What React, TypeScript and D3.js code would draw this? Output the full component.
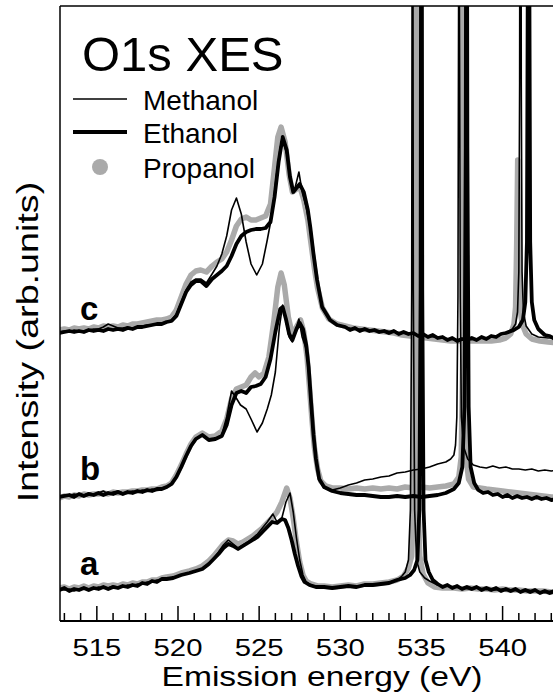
import React, { useEffect, useRef } from 'react';
import * as d3 from 'd3';

// O1s XES spectra, three excitation energies (a, b, c), offset vertically.
// each point: [emission energy (eV), intensity above the group's baseline (arb. units)]
const groupNames = ['a', 'b', 'c'];
const groupOffsets = [31, 124, 289];
const seriesNames = ['Methanol', 'Ethanol', 'Propanol'];

const methanolA = [
  [512.7, 1], [513.0, 0], [513.3, 1], [513.6, -1], [513.9, 1], [514.2, 2], [514.5, 1], [514.8, 1], [515.1, 3],
  [515.4, 2], [515.7, 2], [516.0, 4], [516.3, 3], [516.6, 3], [516.9, 5], [517.2, 4], [517.5, 6], [517.8, 6],
  [518.1, 8], [518.4, 8], [518.7, 10], [519.0, 10], [519.3, 12],
  [519.7, 12], [520.2, 15], [520.7, 17], [521.1, 19],
  [521.5, 21], [521.9, 26], [522.2, 32], [522.5, 38], [522.8, 45], [523.1, 50], [523.4, 46], [523.7, 42],
  [524.0, 45], [524.3, 48], [524.6, 52], [524.9, 56], [525.2, 62], [525.5, 68], [525.85, 76], [526.1, 68],
  [526.4, 72], [526.65, 88], [526.9, 97], [527.1, 78], [527.3, 52], [527.5, 30], [527.7, 15], [527.9, 8],
  [528.2, 5], [528.6, 3], [529.0, 3], [529.5, 2], [530.0, 3], [530.5, 4], [531.0, 3], [531.5, 5], [532.0, 5],
  [532.5, 6], [533.0, 7], [533.5, 10], [533.8, 14], [534.0, 18], [534.2, 30], [534.32, 80], [534.4, 300],
  [534.45, 1000], [534.5, 300], [534.58, 80], [534.7, 30], [534.9, 18], [535.2, 12], [535.5, 9], [536.0, 5],
  [536.5, 4], [537.0, 3], [537.5, 2], [538.0, 1], [538.5, 2], [539.0, 1], [539.5, 0], [540.0, 1], [540.5, 0],
  [541.0, -1], [541.5, 0], [542.0, -1], [542.5, -2], [543.0, -1], [543.5, -3],
];
const ethanolA = [
  [512.7, 0], [513.0, 2], [513.3, -1], [513.6, 1], [513.9, 0], [514.2, 2], [514.5, 0], [514.8, 2], [515.1, 1],
  [515.4, 3], [515.7, 1], [516.0, 3], [516.3, 2], [516.6, 4], [516.9, 3], [517.2, 5], [517.5, 4], [517.8, 7],
  [518.1, 6], [518.4, 9], [518.7, 8], [519.0, 11], [519.3, 11],
  [519.7, 12], [520.2, 15], [520.7, 17], [521.1, 19],
  [521.5, 21], [521.9, 26], [522.2, 31], [522.5, 36], [522.8, 42], [523.1, 46], [523.4, 44], [523.7, 41],
  [524.0, 44], [524.3, 47], [524.6, 50], [524.9, 53], [525.2, 58], [525.5, 63], [525.8, 68], [526.1, 67],
  [526.4, 71], [526.6, 70], [526.8, 62], [527.0, 50], [527.2, 36], [527.4, 24], [527.6, 14], [527.8, 8],
  [528.1, 5], [528.5, 3], [529.0, 3], [529.5, 2], [530.0, 3], [530.5, 4], [531.0, 3], [531.5, 5], [532.0, 5],
  [532.5, 6], [533.0, 7], [533.5, 10], [534.0, 12], [534.3, 15], [534.55, 20], [534.75, 30], [534.87, 80],
  [534.95, 300], [535.0, 1000], [535.05, 300], [535.13, 80], [535.25, 30], [535.45, 18], [535.7, 10], [536.0, 6],
  [536.3, 3], [536.6, 5], [536.9, 2], [537.2, 4], [537.5, 1], [537.8, 3], [538.1, 1], [538.4, 3], [538.7, 0],
  [539.0, 2], [539.3, 0], [539.6, 2], [539.9, -1], [540.2, 1], [540.5, -1], [540.8, 1], [541.1, -2], [541.4, 0],
  [541.7, -2], [542.0, 0], [542.3, -3], [542.6, -1], [542.9, -3], [543.2, -1], [543.5, -3],
];
const propanolA = [
  [512.7, 2], [513.0, 3], [513.3, 1], [513.6, 3], [513.9, 2], [514.2, 4], [514.5, 2], [514.8, 4], [515.1, 3],
  [515.4, 5], [515.7, 4], [516.0, 5], [516.3, 4], [516.6, 6], [516.9, 5], [517.2, 7], [517.5, 6], [517.8, 8],
  [518.1, 8], [518.4, 10], [518.7, 10], [519.0, 12], [519.3, 13],
  [519.7, 14], [520.2, 17], [520.7, 19], [521.1, 21],
  [521.5, 24], [521.9, 29], [522.2, 34], [522.5, 40], [522.8, 46], [523.1, 50], [523.4, 49], [523.7, 46],
  [524.0, 48], [524.3, 51], [524.6, 54], [524.9, 58], [525.2, 62], [525.5, 67], [525.8, 72], [526.1, 78],
  [526.4, 88], [526.7, 102], [526.9, 92], [527.1, 72], [527.3, 48], [527.5, 28], [527.7, 15], [527.9, 9],
  [528.2, 6], [528.6, 4], [529.0, 4], [529.5, 3], [530.0, 4], [530.5, 5], [531.0, 4], [531.5, 6], [532.0, 6],
  [532.5, 7], [533.0, 8], [533.5, 10], [533.9, 14], [534.2, 22], [534.4, 34], [534.52, 90], [534.6, 400],
  [534.65, 800], [534.7, 400], [534.78, 90], [534.9, 34], [535.1, 16], [535.4, 7], [535.8, 3], [536.3, 2],
  [537.0, 2], [537.5, 1], [538.0, 2], [538.5, 1], [539.0, 1], [539.5, 0], [540.0, 1], [540.5, 0], [541.0, 0],
  [541.5, -1], [542.0, -1], [542.5, -1], [543.0, -2], [543.5, -1],
];

const methanolB = [
  [512.7, 1], [513.0, 2], [513.3, 1], [513.6, 3], [513.9, 2], [514.2, 2], [514.5, 4], [514.8, 3], [515.1, 4],
  [515.4, 6], [515.7, 3], [516.0, 5], [516.3, 6], [516.6, 4], [516.9, 5], [517.2, 6], [517.5, 5], [517.8, 7],
  [518.1, 6], [518.4, 8], [518.7, 7], [519.0, 9], [519.3, 10],
  [519.6, 13], [519.9, 20], [520.2, 31], [520.5, 42],
  [520.8, 52], [521.1, 58], [521.5, 62], [521.9, 57], [522.3, 58], [522.7, 62], [523.0, 80], [523.3, 106],
  [523.55, 100], [523.85, 92], [524.2, 88], [524.5, 78], [524.87, 65], [525.2, 74], [525.5, 88], [525.75, 102],
  [526.0, 125], [526.25, 170], [526.45, 192], [526.65, 176], [526.85, 160], [527.05, 155], [527.3, 170],
  [527.45, 178], [527.65, 160], [527.9, 148], [528.05, 128], [528.2, 95], [528.35, 62], [528.5, 38], [528.7, 18],
  [529.0, 9], [529.5, 7], [530.0, 9], [530.5, 12], [531.0, 14], [531.5, 17], [532.0, 18], [532.5, 20],
  [533.0, 21], [533.5, 24], [534.0, 25], [534.5, 27], [535.0, 28], [535.5, 30], [536.0, 33], [536.5, 35],
  [536.8, 38], [537.0, 42], [537.1, 52], [537.18, 80], [537.25, 200], [537.29, 500], [537.32, 900],
  [537.35, 500], [537.39, 200], [537.46, 80], [537.6, 50], [537.85, 38], [538.2, 32], [538.6, 30], [539.0, 29],
  [539.4, 31], [539.8, 29], [540.2, 30], [540.6, 28], [541.0, 28], [541.4, 27], [541.8, 28], [542.2, 26],
  [542.6, 27], [543.0, 26], [543.5, 27],
];
const ethanolB = [
  [512.7, 0], [513.0, 1], [513.3, 2], [513.6, 0], [513.9, 3], [514.2, 1], [514.5, 3], [514.8, 2], [515.1, 4],
  [515.4, 2], [515.7, 4], [516.0, 3], [516.3, 5], [516.6, 3], [516.9, 5], [517.2, 4], [517.5, 6], [517.8, 5],
  [518.1, 7], [518.4, 6], [518.7, 8], [519.0, 8], [519.3, 10],
  [519.6, 13], [519.9, 20], [520.2, 30], [520.5, 41],
  [520.8, 51], [521.1, 58], [521.5, 62], [521.9, 57], [522.3, 58], [522.7, 61], [523.0, 72], [523.3, 92],
  [523.6, 104], [523.9, 106], [524.2, 104], [524.5, 110], [524.8, 111], [525.1, 113], [525.4, 120], [525.7, 138],
  [526.0, 165], [526.3, 188], [526.45, 190], [526.65, 178], [526.85, 163], [527.05, 157], [527.3, 168],
  [527.5, 174], [527.7, 168], [527.9, 152], [528.05, 130], [528.2, 95], [528.35, 62], [528.5, 38], [528.7, 18],
  [529.0, 10], [529.5, 6], [530.0, 4], [530.5, 3], [531.0, 2], [531.5, 2], [532.0, 1], [532.5, 0], [533.0, 0],
  [533.5, 1], [534.0, 0], [534.5, 1], [535.0, 0], [535.5, 1], [536.0, 2], [536.5, 4], [537.0, 8], [537.3, 14],
  [537.52, 30], [537.65, 90], [537.73, 350], [537.78, 900], [537.83, 350], [537.91, 90], [538.03, 30],
  [538.25, 14], [538.5, 7], [538.8, 4], [539.1, 5], [539.4, 2], [539.7, 3], [540.0, 0], [540.3, 2], [540.6, -1],
  [540.9, 1], [541.2, -1], [541.5, 0], [541.8, -2], [542.1, 0], [542.4, -2], [542.7, -1], [543.0, -3],
  [543.5, -2],
];
const propanolB = [
  [512.7, -1], [513.0, 1], [513.3, 0], [513.6, 2], [513.9, 1], [514.2, 3], [514.5, 2], [514.8, 3], [515.1, 3],
  [515.4, 4], [515.7, 3], [516.0, 5], [516.3, 4], [516.6, 5], [516.9, 5], [517.2, 6], [517.5, 6], [517.8, 7],
  [518.1, 7], [518.4, 8], [518.7, 8], [519.0, 10], [519.3, 11],
  [519.6, 14], [519.9, 22], [520.2, 32], [520.5, 43],
  [520.8, 53], [521.1, 60], [521.5, 64], [521.9, 60], [522.3, 61], [522.7, 66], [523.0, 78], [523.3, 98],
  [523.6, 108], [523.9, 110], [524.2, 112], [524.5, 120], [524.75, 124], [525.0, 120], [525.3, 124], [525.6, 140],
  [525.9, 175], [526.15, 210], [526.35, 224], [526.55, 212], [526.8, 180], [527.05, 162], [527.3, 170],
  [527.55, 177], [527.75, 165], [527.95, 140], [528.1, 110], [528.25, 78], [528.4, 50], [528.6, 28], [528.8, 16],
  [529.1, 11], [529.5, 9], [530.0, 9], [530.5, 8], [531.0, 9], [531.5, 8], [532.0, 9], [532.5, 8], [533.0, 9],
  [533.5, 8], [534.0, 10], [534.5, 9], [535.0, 10], [535.5, 9], [536.0, 10], [536.5, 11], [537.0, 13],
  [537.3, 20], [537.45, 40], [537.55, 150], [537.6, 600], [537.65, 150], [537.75, 40], [537.9, 18], [538.2, 10],
  [538.6, 9], [539.0, 8], [539.5, 7], [540.0, 6], [540.5, 5], [541.0, 4], [541.5, 3], [542.0, 2], [542.5, 1],
  [543.0, 0], [543.5, 0],
];

const methanolC = [
  [512.7, 0], [513.0, 1], [513.3, 0], [513.6, 2], [513.9, 1], [514.2, 1], [514.5, 2], [514.8, 3], [515.1, 3],
  [515.4, 5], [515.7, 8], [516.0, 6], [516.3, 4], [516.6, 4], [516.9, 5], [517.2, 4], [517.5, 5], [517.8, 6],
  [518.1, 7], [518.4, 7], [518.7, 8], [519.0, 9], [519.3, 10],
  [519.6, 12], [519.9, 18], [520.2, 30],
  [520.5, 42], [520.8, 50], [521.1, 53], [521.4, 53], [521.75, 49], [522.1, 58], [522.4, 66], [522.7, 78],
  [523.0, 96], [523.3, 122], [523.6, 134], [523.9, 118], [524.2, 90], [524.5, 68], [524.85, 57], [525.2, 68],
  [525.5, 92], [525.8, 118], [526.05, 155], [526.3, 185], [526.45, 192], [526.7, 178], [526.95, 150],
  [527.15, 140], [527.45, 160], [527.65, 140], [527.9, 125], [528.1, 108], [528.35, 78], [528.57, 52],
  [528.88, 25], [529.37, 12], [529.8, 7], [530.3, 5], [530.8, 3], [531.3, 3], [531.8, 2], [532.3, 1], [532.8, 1],
  [533.3, 0], [533.8, -1], [534.3, -2], [534.8, -3], [535.3, -4], [535.8, -5], [536.3, -6], [536.8, -7],
  [537.3, -8], [537.8, -7], [538.3, -7], [538.8, -6], [539.3, -5], [539.8, -3], [540.3, 0], [540.6, 3],
  [540.8, 8], [540.92, 20], [541.0, 60], [541.05, 250], [541.08, 700], [541.12, 700], [541.15, 250],
  [541.2, 60], [541.28, 20], [541.45, 6], [541.8, -2], [542.2, -5], [542.8, -6], [543.5, -6],
];
const ethanolC = [
  [512.7, -1], [513.0, 0], [513.3, 1], [513.6, 0], [513.9, 1], [514.2, 0], [514.5, 2], [514.8, 1], [515.1, 2],
  [515.4, 1], [515.7, 3], [516.0, 2], [516.3, 3], [516.6, 2], [516.9, 4], [517.2, 3], [517.5, 5], [517.8, 5],
  [518.1, 6], [518.4, 7], [518.7, 8], [519.0, 8], [519.3, 10],
  [519.6, 11], [519.9, 16], [520.2, 28], [520.5, 40],
  [520.8, 47], [521.1, 51], [521.4, 51], [521.75, 46], [522.1, 53], [522.4, 57], [522.7, 61], [523.0, 66],
  [523.3, 76], [523.6, 88], [523.9, 96], [524.2, 100], [524.5, 102], [524.8, 103], [525.1, 103], [525.4, 104],
  [525.7, 110], [525.95, 135], [526.2, 170], [526.45, 195], [526.7, 182], [526.9, 155], [527.1, 140],
  [527.3, 144], [527.5, 148], [527.75, 140], [528.0, 122], [528.15, 105], [528.35, 78], [528.57, 52],
  [528.88, 25], [529.37, 12], [529.8, 7], [530.3, 5], [530.6, 2], [530.9, 4], [531.2, 1], [531.5, 3], [531.8, 1],
  [532.1, 2], [532.4, 0], [532.7, 1], [533.0, -1], [533.3, 1], [533.6, -2], [533.9, 0], [534.2, -2], [534.5, -1],
  [534.8, -4], [535.1, -2], [535.4, -5], [535.7, -3], [536.0, -6], [536.3, -5], [536.6, -8], [536.9, -6],
  [537.2, -9], [537.5, -7], [537.8, -8], [538.1, -6], [538.4, -8], [538.7, -5], [539.0, -7], [539.3, -4],
  [539.6, -5], [539.9, -2], [540.2, -1], [540.7, 2],
  [541.0, 5], [541.25, 12], [541.4, 30], [541.5, 90], [541.56, 400], [541.6, 700], [541.64, 400], [541.7, 90],
  [541.8, 30], [541.95, 12], [542.2, 3], [542.6, -3], [542.9, -4], [543.2, -7], [543.5, -5],
];
const propanolC = [
  [512.7, 2], [513.0, 3], [513.3, 2], [513.6, 4], [513.9, 3], [514.2, 4], [514.5, 3], [514.8, 5], [515.1, 4],
  [515.4, 6], [515.7, 5], [516.0, 6], [516.3, 5], [516.6, 7], [516.9, 6], [517.2, 8], [517.5, 8], [517.8, 9],
  [518.1, 10], [518.4, 11], [518.7, 12], [519.0, 12], [519.3, 13],
  [519.6, 15], [519.9, 22], [520.2, 35],
  [520.5, 48], [520.8, 57], [521.1, 61], [521.4, 62], [521.75, 60], [522.1, 66], [522.4, 70], [522.7, 73],
  [523.0, 80], [523.3, 92], [523.6, 106], [523.9, 113], [524.2, 115], [524.5, 112], [524.8, 112], [525.1, 114],
  [525.4, 116], [525.7, 128], [525.95, 165], [526.15, 195], [526.35, 205], [526.6, 190], [526.85, 157],
  [527.05, 140], [527.3, 143], [527.5, 146], [527.75, 132], [528.0, 112], [528.2, 88], [528.4, 64], [528.6, 44],
  [528.9, 24], [529.3, 13], [529.8, 8], [530.3, 6], [530.8, 4], [531.3, 3], [531.8, 2], [532.3, 1], [532.8, 0],
  [533.3, -1], [533.8, -3], [534.3, -4], [534.8, -5], [535.3, -6], [535.8, -7], [536.3, -8], [536.8, -9],
  [537.3, -9], [537.8, -9], [538.3, -9], [538.8, -9], [539.3, -9], [539.8, -8], [540.2, -6], [540.5, -2],
  [540.7, 8], [540.8, 25], [540.87, 90], [540.93, 172], [540.99, 90], [541.06, 25], [541.2, 8], [541.45, -2],
  [541.8, -7], [542.3, -9], [542.8, -10], [543.5, -11],
];

const spectra = [
  [methanolA, ethanolA, propanolA],
  [methanolB, ethanolB, propanolB],
  [methanolC, ethanolC, propanolC],
];
const majorTicks = [515, 520, 525, 530, 535, 540];

const W = 553;
const H = 700;

export default function App() {
  const ref = useRef<SVGSVGElement>(null);

  useEffect(() => {
    const svg = d3.select(ref.current);
    svg.selectAll('*').remove();

    const left = 60;
    const top = 6;
    const bottom = 621;
    const right = 560;
    const font = "'Liberation Sans', Arial, Helvetica, sans-serif";

    const x = d3.scaleLinear().domain([512.73, 543.5]).range([left, 559.4]);
    const y = d3.scaleLinear().domain([0, 615]).range([bottom, top]);

    svg.append('defs').append('clipPath').attr('id', 'plot-clip')
      .append('rect').attr('x', left).attr('y', top).attr('width', right - left).attr('height', bottom - top);

    const plot = svg.append('g').attr('clip-path', 'url(#plot-clip)');

    // propanol (grey) first, then ethanol (thick), then methanol (thin)
    const styles = [
      { color: '#000', width: 1.6 },
      { color: '#000', width: 3.8 },
      { color: '#aaaaaa', width: 5.5 },
    ];
    [2, 1, 0].forEach((s) => {
      spectra.forEach((group, g) => {
        const line = d3.line<number[]>()
          .x((d) => x(d[0]))
          .y((d) => y(d[1] + groupOffsets[g]));
        plot.append('path')
          .attr('d', line(group[s]))
          .attr('fill', 'none')
          .attr('stroke', styles[s].color)
          .attr('stroke-width', styles[s].width)
          .attr('stroke-linejoin', 'round')
          .attr('stroke-linecap', 'round');
      });
    });

    // frame
    svg.append('line').attr('x1', left).attr('x2', left).attr('y1', top).attr('y2', bottom)
      .attr('stroke', '#000').attr('stroke-width', 1.5);
    svg.append('line').attr('x1', left).attr('x2', W).attr('y1', top).attr('y2', top)
      .attr('stroke', '#000').attr('stroke-width', 1.5);
    svg.append('line').attr('x1', left).attr('x2', W).attr('y1', bottom).attr('y2', bottom)
      .attr('stroke', '#000').attr('stroke-width', 2);

    // ticks, pointing inwards
    const minor = d3.range(513, 544);
    svg.append('g').selectAll('line').data(minor).enter().append('line')
      .attr('x1', (d) => x(d)).attr('x2', (d) => x(d))
      .attr('y1', bottom)
      .attr('y2', (d) => (majorTicks.includes(d) ? bottom - 15 : bottom - 8))
      .attr('stroke', '#000').attr('stroke-width', 1.5);

    // axis texts are horizontally stretched in the original
    svg.append('g').selectAll('text').data(majorTicks).enter().append('text')
      .attr('transform', (d) => `translate(${x(d)},656) scale(1.22,1)`)
      .attr('text-anchor', 'middle')
      .style('font-family', font).style('font-size', '24px')
      .text((d) => d);

    svg.append('text').attr('transform', 'translate(322,686) scale(1.2,1)').attr('text-anchor', 'middle')
      .style('font-family', font).style('font-size', '28px')
      .text('Emission energy (eV)');

    svg.append('text').attr('transform', 'translate(38,342) rotate(-90) scale(1.3,1)').attr('text-anchor', 'middle')
      .style('font-family', font).style('font-size', '29px')
      .text('Intensity (arb.units)');

    // title and legend
    svg.append('text').attr('x', 82).attr('y', 71)
      .style('font-family', font).style('font-size', '49px').text('O1s XES');

    const legendY = [99, 132, 167];
    svg.append('line').attr('x1', 73).attr('x2', 127).attr('y1', legendY[0]).attr('y2', legendY[0])
      .attr('stroke', '#000').attr('stroke-width', 1.6);
    svg.append('line').attr('x1', 73).attr('x2', 127).attr('y1', legendY[1]).attr('y2', legendY[1])
      .attr('stroke', '#000').attr('stroke-width', 3.8);
    svg.append('circle').attr('cx', 100).attr('cy', legendY[2]).attr('r', 8).attr('fill', '#aaaaaa');
    svg.append('g').selectAll('text').data(seriesNames).enter().append('text')
      .attr('x', 143).attr('y', (_, i) => legendY[i] + 11)
      .style('font-family', font).style('font-size', '28px')
      .text((d) => d);

    // group labels
    const labelY = [575, 480, 320];
    svg.append('g').selectAll('text').data(groupNames).enter().append('text')
      .attr('x', 80).attr('y', (_, i) => labelY[i])
      .style('font-family', font).style('font-size', '33px').style('font-weight', 'bold')
      .text((d) => d);
  }, []);

  return (
    <svg ref={ref} width={W} height={H}
      style={{ position: 'absolute', left: 0, top: 0, background: '#fff' }} />
  );
}
